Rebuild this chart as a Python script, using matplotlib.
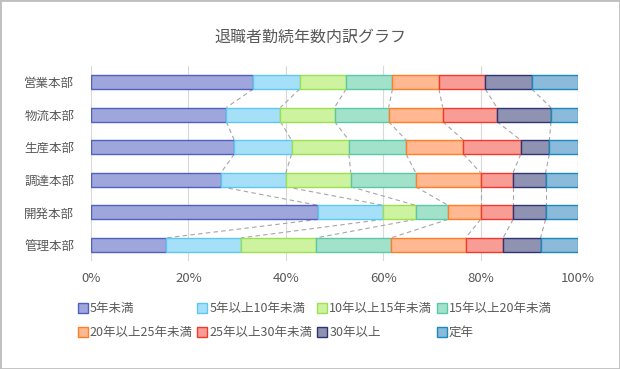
import numpy as np
import matplotlib.pyplot as plt
from matplotlib.patches import Rectangle
from matplotlib.lines import Line2D

plt.rcParams['font.family'] = ['Noto Sans CJK JP', 'DejaVu Sans']

# departments, top to bottom
depts = ["営業本部", "物流本部", "生産本部", "調達本部", "開発本部", "管理本部"]
series = ["5年未満", "5年以上10年未満", "10年以上15年未満", "15年以上20年未満",
          "20年以上25年未満", "25年以上30年未満", "30年以上", "定年"]

# number of retirees per bracket (rows follow depts)
u5 = [7, 5, 5, 4, 7, 2]
u10 = [2, 2, 2, 2, 2, 2]
u15 = [2, 2, 2, 2, 1, 2]
u20 = [2, 2, 2, 2, 1, 2]
u25 = [2, 2, 2, 2, 1, 2]
u30 = [2, 2, 2, 1, 1, 1]
o30 = [2, 2, 1, 1, 1, 1]
teinen = [2, 1, 1, 1, 1, 1]

fills = ["#9ea6dc", "#a6e0f8", "#cdf3a0", "#a2e2cb", "#ffb891", "#f89c96", "#8f92b0", "#8bbada"]
edges = ["#5060c0", "#5cc8f0", "#9be050", "#5cc8a8", "#ff7f27", "#ee3b2e", "#2e3575", "#1a8abc"]

counts = np.array([u5, u10, u15, u20, u25, u30, o30, teinen], dtype=float)
pct = counts / counts.sum(axis=0) * 100
cum = np.cumsum(pct, axis=0)

fig = plt.figure(figsize=(6.2, 3.69), dpi=100)
ax = fig.add_axes([0.1468, 0.292, 0.7855, 0.530])

y = np.arange(len(depts))
h = 0.43
left = np.zeros(len(depts))
for k in range(len(series)):
    ax.barh(y, pct[k], left=left, height=h, color=fills[k], edgecolor=edges[k],
            linewidth=1.0, label=series[k], zorder=3)
    left = left + pct[k]

# series lines between adjacent bars
for k in range(len(series)):
    for i in range(len(depts) - 1):
        ax.plot([cum[k, i], cum[k, i + 1]], [y[i] + h / 2, y[i + 1] - h / 2],
                color="#a6a6a6", lw=0.8, ls=(0, (4, 3)), zorder=2)

ax.set_xlim(0, 100)
ax.set_ylim(len(depts) - 0.5, -0.5)
ax.set_yticks(y)
ax.set_yticklabels(depts, fontsize=9, color="#595959")
ax.set_xticks(np.arange(0, 101, 20))
ax.set_xticklabels([f"{v}%" for v in range(0, 101, 20)], fontsize=9.5, color="#595959")
ax.tick_params(length=0, pad=8)
ax.tick_params(axis="y", pad=12)
ax.grid(axis="x", color="#d9d9d9", lw=0.8, zorder=0)
for s in ax.spines.values():
    s.set_visible(False)

fig.text(0.5, 0.9, "退職者勤続年数内訳グラフ", ha="center", va="center",
         fontsize=11.5, color="#595959")

handles = [Line2D([], [], marker="s", ls="none", markersize=6.5,
                  markerfacecolor=fills[k], markeredgecolor=edges[k], markeredgewidth=1.0)
           for k in range(len(series))]
order = [0, 4, 1, 5, 2, 6, 3, 7]
fig.legend([handles[i] for i in order], [series[i] for i in order], ncol=4,
           loc="upper left", bbox_to_anchor=(0.118, 0.194), frameon=False,
           fontsize=9, labelcolor="#595959", handlelength=0.7, handletextpad=0.2,
           columnspacing=0.45, labelspacing=0.85, borderaxespad=0)

fig.patches.append(Rectangle((0, 0), 1, 1, transform=fig.transFigure, fill=False,
                             edgecolor="#bfbfbf", lw=2))

fig.savefig("out.png", dpi=100)
